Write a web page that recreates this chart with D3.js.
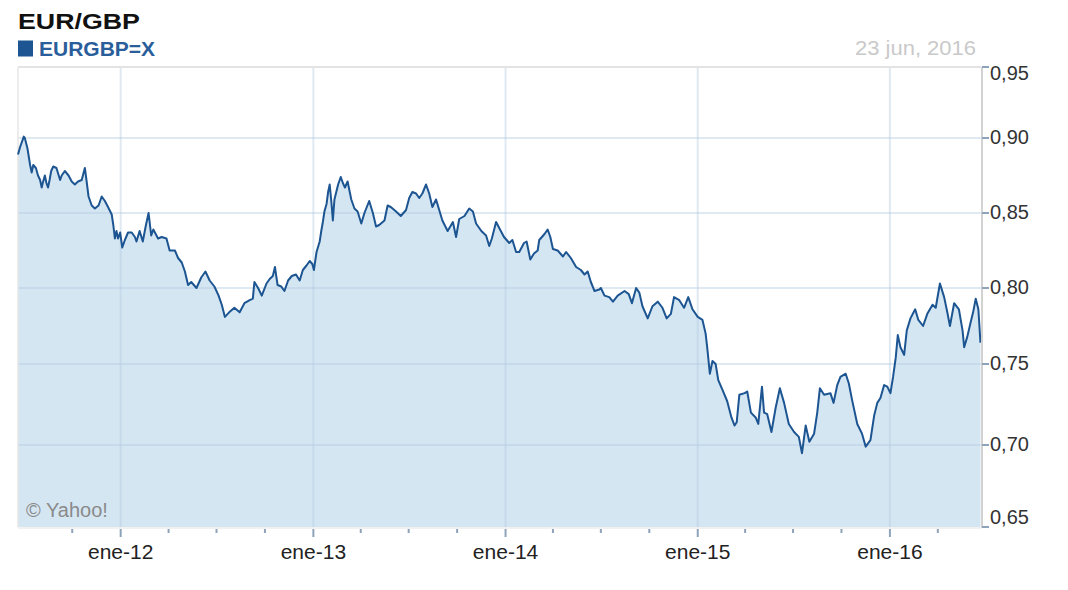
<!DOCTYPE html>
<html><head><meta charset="utf-8">
<script src="https://cdn.jsdelivr.net/npm/d3@7"></script>
<style>body{margin:0;background:#fff}svg{display:block;font-family:"Liberation Sans",Arial,Helvetica,sans-serif}</style>
</head><body><svg id="c" width="1068" height="590"></svg>
<script>
const chartTitle = "EUR/GBP";
const seriesName = "EURGBP=X";
const dateLabel = "23 jun, 2016";
const creditLabel = "© Yahoo!";
const domainStart = "2011-06-20";
const domainEnd = "2016-06-22";
const yTickValues = [0.65, 0.70, 0.75, 0.80, 0.85, 0.90, 0.95];
const yTickLabels = ["0,65", "0,70", "0,75", "0,80", "0,85", "0,90", "0,95"];
const xTickDates = ["2012-01-01", "2013-01-01", "2014-01-01", "2015-01-01", "2016-01-01"];
const xTickLabels = ["ene-12", "ene-13", "ene-14", "ene-15", "ene-16"];
// [date, EUR/GBP close]
const eurgbp = [
["2011-06-20",0.889],["2011-06-24",0.894],["2011-07-01",0.901],["2011-07-03",0.900],["2011-07-08",0.893],["2011-07-13",0.882],["2011-07-16",0.877],["2011-07-19",0.882],["2011-07-24",0.880],["2011-07-28",0.875],
["2011-08-01",0.872],["2011-08-04",0.867],["2011-08-06",0.870],["2011-08-10",0.875],["2011-08-13",0.870],["2011-08-16",0.867],["2011-08-19",0.872],["2011-08-22",0.878],["2011-08-26",0.881],["2011-09-01",0.880],
["2011-09-08",0.872],["2011-09-11",0.875],["2011-09-17",0.878],["2011-09-24",0.875],["2011-09-30",0.871],["2011-10-06",0.869],["2011-10-12",0.871],["2011-10-19",0.872],["2011-10-25",0.880],["2011-10-28",0.872],
["2011-11-01",0.861],["2011-11-07",0.855],["2011-11-13",0.853],["2011-11-20",0.855],["2011-11-26",0.861],["2011-12-02",0.858],["2011-12-08",0.854],["2011-12-15",0.849],["2011-12-18",0.842],["2011-12-21",0.833],
["2011-12-24",0.838],["2011-12-27",0.833],["2011-12-31",0.837],["2012-01-04",0.827],["2012-01-09",0.832],["2012-01-15",0.837],["2012-01-22",0.837],["2012-01-28",0.834],["2012-01-31",0.831],["2012-02-06",0.838],
["2012-02-12",0.831],["2012-02-18",0.842],["2012-02-23",0.850],["2012-02-28",0.835],["2012-03-03",0.839],["2012-03-06",0.837],["2012-03-12",0.833],["2012-03-19",0.834],["2012-03-28",0.833],["2012-04-03",0.825],
["2012-04-13",0.825],["2012-04-19",0.820],["2012-04-26",0.817],["2012-05-02",0.811],["2012-05-08",0.802],["2012-05-14",0.804],["2012-05-24",0.800],["2012-06-02",0.807],["2012-06-10",0.811],["2012-06-18",0.805],
["2012-06-27",0.801],["2012-07-05",0.795],["2012-07-11",0.789],["2012-07-17",0.781],["2012-07-25",0.784],["2012-08-04",0.787],["2012-08-14",0.784],["2012-08-23",0.790],["2012-09-02",0.792],["2012-09-08",0.793],
["2012-09-11",0.804],["2012-09-18",0.800],["2012-09-25",0.795],["2012-10-04",0.803],["2012-10-10",0.806],["2012-10-16",0.808],["2012-10-20",0.814],["2012-10-25",0.802],["2012-11-01",0.801],["2012-11-07",0.798],
["2012-11-14",0.805],["2012-11-21",0.808],["2012-11-29",0.809],["2012-12-06",0.805],["2012-12-12",0.812],["2012-12-19",0.815],["2012-12-25",0.818],["2012-12-30",0.816],["2013-01-02",0.812],["2013-01-07",0.824],
["2013-01-13",0.831],["2013-01-16",0.838],["2013-01-19",0.844],["2013-01-22",0.851],["2013-01-26",0.856],["2013-01-29",0.864],["2013-02-01",0.869],["2013-02-04",0.858],["2013-02-07",0.845],["2013-02-10",0.859],
["2013-02-17",0.869],["2013-02-22",0.874],["2013-02-26",0.870],["2013-03-02",0.867],["2013-03-07",0.871],["2013-03-14",0.859],["2013-03-20",0.853],["2013-03-26",0.851],["2013-04-02",0.843],["2013-04-08",0.850],
["2013-04-17",0.858],["2013-04-24",0.850],["2013-04-30",0.841],["2013-05-06",0.842],["2013-05-16",0.845],["2013-05-22",0.855],["2013-05-28",0.854],["2013-06-07",0.851],["2013-06-16",0.848],["2013-06-26",0.852],
["2013-07-02",0.860],["2013-07-08",0.864],["2013-07-15",0.863],["2013-07-21",0.860],["2013-07-27",0.863],["2013-08-03",0.869],["2013-08-09",0.863],["2013-08-15",0.854],["2013-08-22",0.859],["2013-08-28",0.852],
["2013-09-03",0.845],["2013-09-13",0.838],["2013-09-23",0.844],["2013-09-29",0.834],["2013-10-05",0.846],["2013-10-15",0.848],["2013-10-24",0.853],["2013-10-31",0.851],["2013-11-06",0.843],["2013-11-16",0.838],
["2013-11-25",0.835],["2013-12-01",0.828],["2013-12-06",0.833],["2013-12-14",0.844],["2013-12-20",0.840],["2013-12-29",0.834],["2014-01-08",0.830],["2014-01-14",0.832],["2014-01-21",0.824],["2014-01-27",0.824],
["2014-02-05",0.830],["2014-02-10",0.831],["2014-02-17",0.819],["2014-02-24",0.823],["2014-03-03",0.825],["2014-03-06",0.832],["2014-03-16",0.836],["2014-03-22",0.839],["2014-03-27",0.834],["2014-04-01",0.826],
["2014-04-10",0.825],["2014-04-20",0.821],["2014-04-26",0.824],["2014-05-05",0.820],["2014-05-15",0.814],["2014-05-24",0.812],["2014-05-31",0.809],["2014-06-06",0.811],["2014-06-12",0.804],["2014-06-19",0.798],
["2014-06-28",0.799],["2014-07-01",0.800],["2014-07-08",0.795],["2014-07-17",0.794],["2014-07-24",0.791],["2014-08-02",0.795],["2014-08-15",0.798],["2014-08-23",0.796],["2014-08-29",0.790],["2014-09-06",0.800],
["2014-09-12",0.797],["2014-09-18",0.788],["2014-09-28",0.780],["2014-10-07",0.788],["2014-10-17",0.791],["2014-10-26",0.787],["2014-11-03",0.780],["2014-11-11",0.783],["2014-11-17",0.794],["2014-11-27",0.792],
["2014-12-06",0.787],["2014-12-14",0.794],["2014-12-22",0.786],["2015-01-01",0.781],["2015-01-10",0.779],["2015-01-16",0.770],["2015-01-19",0.761],["2015-01-24",0.744],["2015-01-29",0.752],["2015-02-04",0.750],
["2015-02-09",0.740],["2015-02-17",0.734],["2015-02-26",0.727],["2015-03-06",0.717],["2015-03-12",0.712],["2015-03-16",0.714],["2015-03-21",0.731],["2015-03-31",0.732],["2015-04-05",0.733],["2015-04-12",0.720],
["2015-04-21",0.717],["2015-04-26",0.713],["2015-05-03",0.736],["2015-05-07",0.720],["2015-05-13",0.719],["2015-05-21",0.708],["2015-05-29",0.723],["2015-06-06",0.735],["2015-06-14",0.726],["2015-06-23",0.713],
["2015-07-03",0.708],["2015-07-12",0.705],["2015-07-18",0.695],["2015-07-25",0.712],["2015-08-01",0.702],["2015-08-10",0.707],["2015-08-16",0.720],["2015-08-21",0.735],["2015-08-29",0.731],["2015-09-10",0.732],
["2015-09-16",0.726],["2015-09-23",0.737],["2015-09-29",0.742],["2015-10-09",0.744],["2015-10-15",0.738],["2015-10-21",0.728],["2015-10-31",0.713],["2015-11-09",0.707],["2015-11-16",0.699],["2015-11-25",0.703],
["2015-12-02",0.718],["2015-12-08",0.726],["2015-12-14",0.729],["2015-12-21",0.737],["2015-12-27",0.736],["2016-01-02",0.732],["2016-01-07",0.742],["2016-01-12",0.754],["2016-01-16",0.769],["2016-01-21",0.761],
["2016-01-28",0.756],["2016-02-02",0.772],["2016-02-09",0.780],["2016-02-18",0.786],["2016-02-24",0.779],["2016-03-04",0.775],["2016-03-12",0.783],["2016-03-22",0.789],["2016-03-28",0.787],["2016-04-05",0.803],
["2016-04-13",0.794],["2016-04-19",0.784],["2016-04-24",0.775],["2016-05-02",0.790],["2016-05-11",0.786],["2016-05-18",0.772],["2016-05-21",0.761],["2016-05-27",0.768],["2016-06-02",0.777],["2016-06-07",0.784],
["2016-06-12",0.793],["2016-06-17",0.786],["2016-06-21",0.764]
];

// ---- layout ----
const L = 18, R = 981, T = 67, B = 527;
const yStops = [527, 445, 364, 288, 213, 138, 67]; // pixel position of each y tick value (axis is not uniformly spaced)
const parse = d3.timeParse("%Y-%m-%d");
const data = eurgbp.map(d => ({date: parse(d[0]), value: d[1]}));

const svg = d3.select("#c");
const x = d3.scaleTime().domain([parse(domainStart), parse(domainEnd)]).range([L, R]);
const y = d3.scaleLinear().domain(yTickValues).range(yStops);

// area fill
svg.append("path").datum(data)
  .attr("d", d3.area().x(d => x(d.date)).y0(B).y1(d => y(d.value)))
  .attr("fill", "#d5e6f3");

// grid
const grid = svg.append("g").attr("stroke", "#b3cbe0").attr("stroke-opacity", 0.42).attr("stroke-width", 2);
yTickValues.filter(v => y(v) > T + 2 && y(v) < B - 2).forEach(v => {
  grid.append("line").attr("x1", L).attr("x2", R).attr("y1", y(v)).attr("y2", y(v));
});
xTickDates.forEach(s => {
  const xx = x(parse(s));
  grid.append("line").attr("x1", xx).attr("x2", xx).attr("y1", T).attr("y2", B);
});

// frame
svg.append("line").attr("x1", L).attr("x2", R).attr("y1", T).attr("y2", T).attr("stroke", "#e3e3e3").attr("stroke-width", 2);
svg.append("line").attr("x1", L).attr("x2", L).attr("y1", T).attr("y2", B).attr("stroke", "#e6e6e6").attr("stroke-width", 1.5);
svg.append("line").attr("x1", L).attr("x2", R).attr("y1", B + 1).attr("y2", B + 1).attr("stroke", "#ececec").attr("stroke-width", 1.5);

// line
svg.append("path").datum(data)
  .attr("d", d3.line().x(d => x(d.date)).y(d => y(d.value)))
  .attr("fill", "none").attr("stroke", "#1c5591").attr("stroke-width", 2).attr("stroke-linejoin", "round");

// right axis
svg.append("line").attr("x1", R + 1).attr("x2", R + 1).attr("y1", T).attr("y2", B + 1).attr("stroke", "#d2d2d2").attr("stroke-width", 2);
const yAx = svg.append("g");
yTickValues.forEach((v, i) => {
  const yy = y(v);
  yAx.append("line").attr("x1", R + 1).attr("x2", R + 8).attr("y1", yy).attr("y2", yy).attr("stroke", "#8ea3ba").attr("stroke-width", 2);
  const ly = Math.max(T + 5.5, Math.min(B - 10, yy - 1));
  yAx.append("text").attr("x", R + 9).attr("y", ly).attr("dy", "0.35em")
    .attr("font-size", 20).attr("fill", "#333").text(yTickLabels[i]);
});

// bottom axis
const xAx = svg.append("g");
d3.timeMonth.every(3).range(x.domain()[0], x.domain()[1]).filter(d => x(d) > L + 20).forEach(d => {
  const major = d.getMonth() === 0;
  xAx.append("line").attr("x1", x(d)).attr("x2", x(d)).attr("y1", B + 2).attr("y2", B + (major ? 10 : 6))
    .attr("stroke", "#8ea3ba").attr("stroke-width", 2);
});
xTickDates.forEach((s, i) => {
  xAx.append("text").attr("x", x(parse(s))).attr("y", 559).attr("text-anchor", "middle")
    .attr("font-size", 21).attr("fill", "#222").text(xTickLabels[i]);
});

// titles
svg.append("text").attr("x", 18).attr("y", 29).attr("font-size", 22).attr("font-weight", "bold").attr("fill", "#111")
  .attr("textLength", 122).attr("lengthAdjust", "spacingAndGlyphs").text(chartTitle);
svg.append("rect").attr("x", 18).attr("y", 40.5).attr("width", 15).attr("height", 16).attr("fill", "#1c5591");
svg.append("text").attr("x", 39).attr("y", 56).attr("font-size", 21).attr("font-weight", "bold").attr("fill", "#2a5e9a").text(seriesName);
svg.append("text").attr("x", 976).attr("y", 55).attr("text-anchor", "end").attr("font-size", 20).attr("fill", "#c9c9c9")
  .attr("textLength", 121).attr("lengthAdjust", "spacingAndGlyphs").text(dateLabel);
svg.append("text").attr("x", 26).attr("y", 517).attr("font-size", 20).attr("fill", "#8a8a8a").text(creditLabel);
</script></body></html>
